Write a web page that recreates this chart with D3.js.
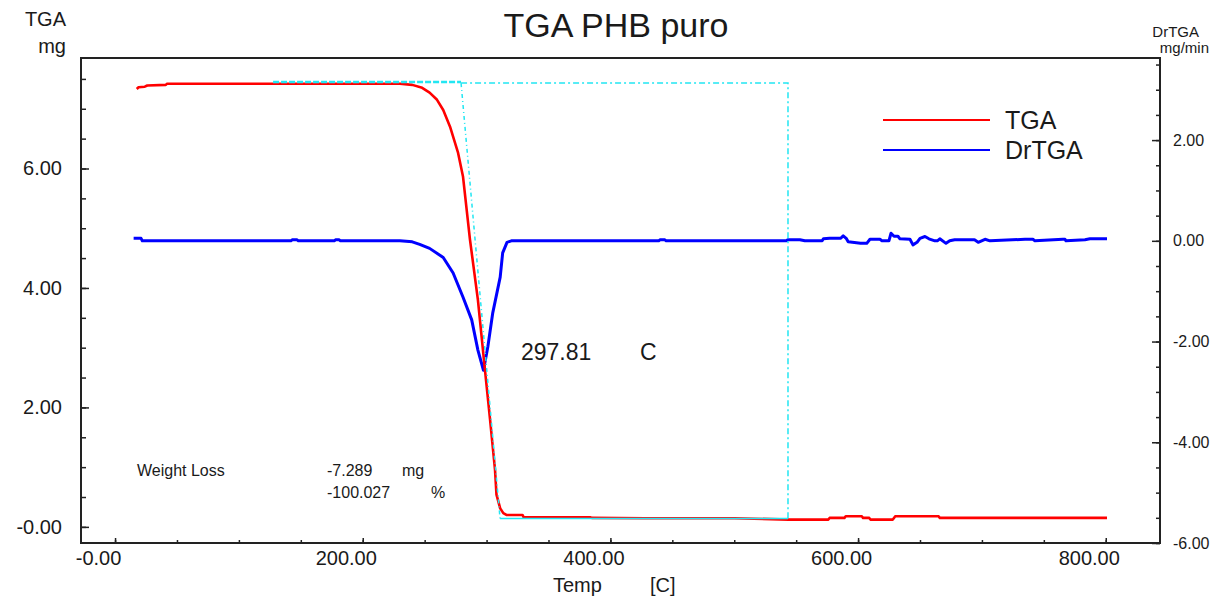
<!DOCTYPE html>
<html>
<head>
<meta charset="utf-8">
<script src="https://cdn.jsdelivr.net/npm/d3@7"></script>
<style>
	body { margin: 0; background: #fff; }
	svg text { font-family: "Liberation Sans", Arial, sans-serif; fill: #1a1a1a; }
</style>
</head>
<body>
<svg id="chart" width="1222" height="599"></svg>
<script>
// TGA curve: temperature [C] / mass [mg]
var tgaTemp = [
	17.5, 19, 24, 26, 41, 42, 230, 240,
	248, 254, 260, 265, 270.5, 277, 281, 286.6,
	293, 298.7, 302.8, 306.8, 308, 311, 313.5, 316,
	329, 330, 384, 385, 428, 500, 544, 576,
	577, 589, 590, 603, 604, 609, 610, 628,
	629, 630, 665, 666, 801
];
var tgaMass = [
	7.33, 7.36, 7.37, 7.39, 7.40, 7.42, 7.42, 7.40,
	7.35, 7.27, 7.15, 6.98, 6.70, 6.26, 5.86, 4.81,
	3.80, 2.63, 1.80, 0.96, 0.54, 0.31, 0.23, 0.20,
	0.20, 0.16, 0.16, 0.15, 0.145, 0.145, 0.122, 0.122,
	0.15, 0.15, 0.177, 0.177, 0.15, 0.15, 0.122, 0.122,
	0.15, 0.177, 0.177, 0.15, 0.15
];
// DrTGA curve: temperature [C] / rate [mg/min]
var dtgTemp = [
	15, 21, 22, 142, 143, 147, 148, 177,
	178, 181, 182, 230, 240, 246, 254, 265,
	273, 281, 288, 293, 297.5, 301, 305, 311,
	313, 316.5, 320, 439, 440, 444, 445, 542,
	543, 553, 557, 571, 572, 577, 586, 588,
	590.4, 592, 602, 607, 609.6, 617.7, 619.3, 624.9,
	626.6, 629, 632.2, 633.8, 641.9, 644.3, 647.6, 650,
	654, 657.2, 662, 664, 666, 671, 674, 678,
	694, 697, 702.5, 706.5, 734.8, 741.2, 742.8, 765.4,
	767.1, 767.9, 783.2, 787.2, 801
];
var dtgRate = [
	0.05, 0.05, 0, 0, 0.02, 0.02, 0, 0,
	0.02, 0.02, 0, 0, -0.02, -0.07, -0.15, -0.33,
	-0.64, -1.12, -1.57, -2.17, -2.57, -2.11, -1.43, -0.72,
	-0.24, -0.03, 0, 0, 0.02, 0.02, 0, 0,
	0.02, 0.02, 0, 0, 0.04, 0.05, 0.05, 0.1,
	0.05, -0.02, -0.05, -0.05, 0.03, 0.03, 0, 0,
	0.15, 0.09, 0.09, 0.04, 0.03, -0.08, -0.03, 0.05,
	0.085, 0.04, 0, 0, 0.04, -0.05, 0, 0.02,
	0.02, -0.03, 0.03, 0, 0.03, 0.03, 0, 0.03,
	0.03, 0, 0.02, 0.04, 0.04
];
// weight loss step marker (temperatures and masses)
var stepTemp = [127.6, 279.4, 310.9, 543.4];
var stepMass = [7.43, 0.14];

// axis ticks
var xTicks = [0, 200, 400, 600, 800];
var xTickLabels = ["-0.00", "200.00", "400.00", "600.00", "800.00"];
var leftTicks = [0, 2, 4, 6];
var leftTickLabels = ["-0.00", "2.00", "4.00", "6.00"];
var rightTicks = [2, 0, -2, -4, -6];
var rightTickLabels = ["2.00", "0.00", "-2.00", "-4.00", "-6.00"];

var svg = d3.select("#chart");
var plot = { left: 81, right: 1160, top: 58, bottom: 543 };

var x = d3.scaleLinear().domain([-27.5, 843.8]).range([plot.left, plot.right]);
var yL = d3.scaleLinear().domain([-0.27, 7.85]).range([plot.bottom, plot.top]);
var yR = d3.scaleLinear().domain([-6, 3.63]).range([plot.bottom, plot.top]);

// minor ticks
var xMinor = d3.range(0, 801, 50);
var leftMinor = d3.range(0, 7.51, 0.5);
var rightMinor = d3.range(-6, 3.51, 0.5);

function cleanAxis(g){
	g.select(".domain").remove();
	g.selectAll("line").attr("stroke", "#222").attr("stroke-width", 1.5);
}

svg.append("g").attr("transform", "translate(0," + plot.bottom + ")")
	.call(d3.axisBottom(x).tickValues(xMinor).tickSize(-3).tickFormat(""))
	.call(cleanAxis);
svg.append("g").attr("transform", "translate(0," + plot.bottom + ")")
	.call(d3.axisBottom(x).tickValues(xTicks).tickSize(-5).tickPadding(8)
		.tickFormat(function(d, i){ return xTickLabels[i]; }))
	.call(cleanAxis)
	.selectAll("text").attr("font-size", 20).attr("fill", "#1a1a1a").attr("dx", -17);

svg.append("g").attr("transform", "translate(" + plot.left + ",0)")
	.call(d3.axisLeft(yL).tickValues(leftMinor).tickSize(-5).tickFormat(""))
	.call(cleanAxis);
svg.append("g").attr("transform", "translate(" + plot.left + ",0)")
	.call(d3.axisLeft(yL).tickValues(leftTicks).tickSize(-8).tickPadding(19)
		.tickFormat(function(d, i){ return leftTickLabels[i]; }))
	.call(cleanAxis)
	.selectAll("text").attr("font-size", 20).attr("fill", "#1a1a1a");

svg.append("g").attr("transform", "translate(" + plot.right + ",0)")
	.call(d3.axisRight(yR).tickValues(rightMinor).tickSize(-4).tickFormat(""))
	.call(cleanAxis);
svg.append("g").attr("transform", "translate(" + plot.right + ",0)")
	.call(d3.axisRight(yR).tickValues(rightTicks).tickSize(-8).tickPadding(13)
		.tickFormat(function(d, i){ return rightTickLabels[i]; }))
	.call(cleanAxis)
	.selectAll("text").attr("font-size", 16).attr("fill", "#1a1a1a");

// plot frame
svg.append("rect")
	.attr("x", plot.left).attr("y", plot.top)
	.attr("width", plot.right - plot.left).attr("height", plot.bottom - plot.top)
	.attr("fill", "none").attr("stroke", "#222").attr("stroke-width", 2);

// curves
var dtgLine = d3.line().x(function(d){ return x(d[0]); }).y(function(d){ return yR(d[1]); });
var tgaLine = d3.line().x(function(d){ return x(d[0]); }).y(function(d){ return yL(d[1]); });

svg.append("path").datum(d3.zip(dtgTemp, dtgRate))
	.attr("d", dtgLine).attr("fill", "none")
	.attr("stroke", "#0000ff").attr("stroke-width", 3).attr("stroke-linejoin", "round");
svg.append("path").datum(d3.zip(tgaTemp, tgaMass))
	.attr("d", tgaLine).attr("fill", "none")
	.attr("stroke", "#ff0000").attr("stroke-width", 2.6).attr("stroke-linejoin", "round");

// weight loss step marker
var cyan = "#22e6f2";
svg.append("line")
	.attr("x1", x(stepTemp[0])).attr("x2", x(stepTemp[1]))
	.attr("y1", yL(stepMass[0]) - 1).attr("y2", yL(stepMass[0]) - 1)
	.attr("stroke", cyan).attr("stroke-width", 2.5).attr("stroke-dasharray", "6,2");
svg.append("path")
	.attr("d", d3.line()([
		[x(stepTemp[1]), yL(stepMass[0])],
		[x(stepTemp[3]), yL(stepMass[0])],
		[x(stepTemp[3]), yL(stepMass[1])]
	]))
	.attr("fill", "none").attr("stroke", cyan).attr("stroke-width", 1.5)
	.attr("stroke-dasharray", "6,3,2,3");
svg.append("line")
	.attr("x1", x(stepTemp[1])).attr("x2", x(stepTemp[2]))
	.attr("y1", yL(stepMass[0])).attr("y2", yL(stepMass[1]))
	.attr("stroke", cyan).attr("stroke-width", 1.5).attr("stroke-dasharray", "4,3,1,3");
svg.append("line")
	.attr("x1", x(stepTemp[2])).attr("x2", x(stepTemp[3]))
	.attr("y1", yL(stepMass[1])).attr("y2", yL(stepMass[1]))
	.attr("stroke", cyan).attr("stroke-width", 1.5);

// titles and axis units
svg.append("text").attr("x", 616).attr("y", 37).attr("text-anchor", "middle")
	.attr("font-size", 34).text("TGA PHB puro");
svg.append("text").attr("x", 66).attr("y", 26).attr("text-anchor", "end")
	.attr("font-size", 20).text("TGA");
svg.append("text").attr("x", 66).attr("y", 53).attr("text-anchor", "end")
	.attr("font-size", 20).text("mg");
svg.append("text").attr("x", 1199).attr("y", 37).attr("text-anchor", "end")
	.attr("font-size", 15).text("DrTGA");
svg.append("text").attr("x", 1209).attr("y", 53).attr("text-anchor", "end")
	.attr("font-size", 15).text("mg/min");
svg.append("text").attr("x", 553).attr("y", 592).attr("font-size", 20).text("Temp");
svg.append("text").attr("x", 650).attr("y", 592).attr("font-size", 20).text("[C]");

// legend
var legend = [["TGA", "#ff0000", 120], ["DrTGA", "#0000ff", 150]];
legend.forEach(function(l){
	svg.append("line").attr("x1", 883).attr("x2", 990).attr("y1", l[2]).attr("y2", l[2])
		.attr("stroke", l[1]).attr("stroke-width", 2);
	svg.append("text").attr("x", 1005).attr("y", l[2] + 9).attr("font-size", 25).text(l[0]);
});

// annotations
svg.append("text").attr("x", 137).attr("y", 476).attr("font-size", 16).text("Weight Loss");
svg.append("text").attr("x", 327).attr("y", 476).attr("font-size", 16).text("-7.289");
svg.append("text").attr("x", 402).attr("y", 476).attr("font-size", 16).text("mg");
svg.append("text").attr("x", 327).attr("y", 498).attr("font-size", 16).text("-100.027");
svg.append("text").attr("x", 431).attr("y", 498).attr("font-size", 16).text("%");
svg.append("text").attr("x", 521).attr("y", 360).attr("font-size", 23).text("297.81");
svg.append("text").attr("x", 640).attr("y", 360).attr("font-size", 23).text("C");
</script>
</body>
</html>
